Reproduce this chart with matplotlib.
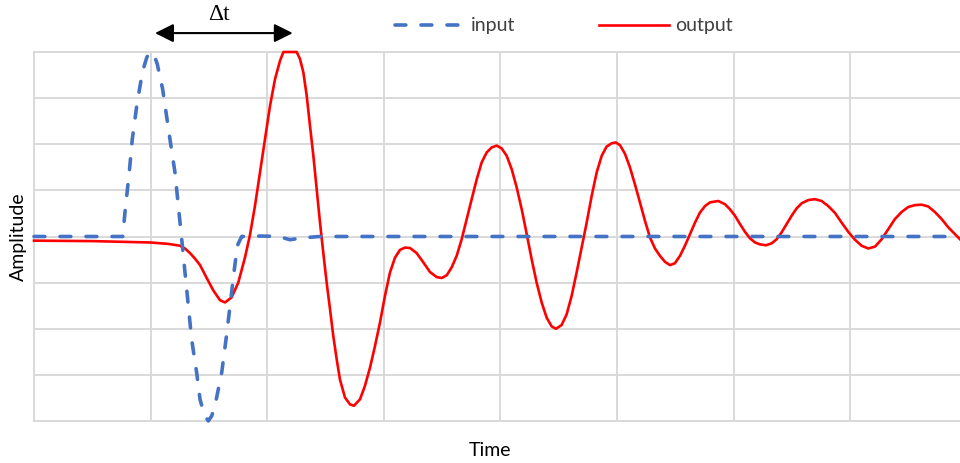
import matplotlib
matplotlib.use("Agg")
import matplotlib.pyplot as plt
import numpy as np

# time axis in grid units, amplitude in grid units (8 divisions from -4 to 4)
input_t = [0.0, 0.761, 0.780, 0.817, 0.843, 0.881, 0.929, 0.967, 0.989, 1.008,
           1.032, 1.057, 1.103, 1.166, 1.209, 1.238, 1.267, 1.295, 1.324, 1.352,
           1.395, 1.424, 1.458, 1.495, 1.524, 1.552, 1.610, 1.647, 1.681, 1.715,
           1.744, 1.781, 1.95, 2.10, 2.195, 2.30, 2.45, 7.94]
input_amp = [0.0, 0.0, 0.52, 1.39, 2.11, 2.83, 3.56, 3.88, 3.98, 4.0,
             3.92, 3.74, 3.20, 2.11, 1.39, 0.66, -0.06, -0.78, -1.51, -2.23,
             -2.95, -3.53, -3.85, -4.0, -3.89, -3.67, -2.95, -2.23, -1.51, -0.78,
             -0.20, 0.0, 0.01, 0.0, -0.07, -0.03, 0.0, 0.0]

output_t = [0.0, 0.5, 1.0, 1.15, 1.252, 1.295, 1.338, 1.381, 1.424, 1.481,
            1.538, 1.595, 1.638, 1.695, 1.752, 1.810, 1.852, 1.895, 1.938, 1.981,
            2.024, 2.067, 2.110, 2.139, 2.253, 2.281, 2.310, 2.339, 2.367, 2.396,
            2.424, 2.453, 2.481, 2.510, 2.539, 2.567, 2.596, 2.624, 2.667, 2.710,
            2.744, 2.796, 2.838, 2.882, 2.925, 2.967, 3.010, 3.053, 3.096, 3.139,
            3.182, 3.225, 3.282, 3.339, 3.396, 3.454, 3.497, 3.540, 3.582, 3.625,
            3.668, 3.711, 3.754, 3.797, 3.840, 3.882, 3.925, 3.968, 4.011, 4.054,
            4.097, 4.140, 4.183, 4.226, 4.268, 4.311, 4.354, 4.397, 4.440, 4.477,
            4.525, 4.568, 4.611, 4.654, 4.697, 4.740, 4.783, 4.826, 4.869, 4.911,
            4.954, 4.989, 5.026, 5.069, 5.111, 5.154, 5.197, 5.240, 5.283, 5.326,
            5.369, 5.412, 5.455, 5.497, 5.540, 5.583, 5.626, 5.669, 5.712, 5.755,
            5.798, 5.869, 5.926, 5.969, 6.012, 6.055, 6.098, 6.141, 6.184, 6.226,
            6.278, 6.326, 6.369, 6.412, 6.455, 6.498, 6.541, 6.584, 6.641, 6.698,
            6.755, 6.812, 6.870, 6.927, 6.984, 7.041, 7.098, 7.155, 7.213, 7.270,
            7.327, 7.384, 7.441, 7.498, 7.556, 7.613, 7.670, 7.727, 7.784, 7.841,
            7.899, 7.942]
output_amp = [-0.09, -0.10, -0.13, -0.16, -0.20, -0.26, -0.36, -0.48, -0.62, -0.90,
              -1.17, -1.38, -1.43, -1.32, -1.00, -0.45, 0.03, 0.66, 1.39, 2.11,
              2.83, 3.41, 3.81, 4.0, 4.0, 3.85, 3.56, 3.05, 2.40, 1.75,
              1.03, 0.30, -0.35, -1.00, -1.58, -2.16, -2.66, -3.10, -3.49, -3.64,
              -3.67, -3.53, -3.24, -2.84, -2.37, -1.87, -1.29, -0.78, -0.46, -0.29,
              -0.24, -0.25, -0.36, -0.56, -0.77, -0.88, -0.90, -0.84, -0.67, -0.42,
              -0.06, 0.38, 0.81, 1.24, 1.61, 1.82, 1.93, 1.97, 1.91, 1.75,
              1.46, 1.06, 0.59, 0.05, -0.49, -1.00, -1.43, -1.76, -1.95, -2.00,
              -1.92, -1.69, -1.29, -0.78, -0.24, 0.30, 0.88, 1.39, 1.75, 1.95,
              2.02, 2.04, 1.98, 1.79, 1.50, 1.13, 0.74, 0.34, -0.02, -0.26,
              -0.42, -0.55, -0.62, -0.58, -0.42, -0.20, 0.05, 0.30, 0.52, 0.66,
              0.74, 0.77, 0.70, 0.59, 0.45, 0.27, 0.10, -0.04, -0.13, -0.17,
              -0.19, -0.15, -0.06, 0.09, 0.27, 0.45, 0.61, 0.72, 0.79, 0.81,
              0.77, 0.66, 0.51, 0.30, 0.10, -0.07, -0.20, -0.26, -0.22, -0.06,
              0.16, 0.38, 0.53, 0.64, 0.68, 0.69, 0.65, 0.53, 0.38, 0.20,
              0.05, -0.06]

plt.rcParams['font.family'] = ['Lato', 'DejaVu Sans']

GRID = '#d9d9d9'
BLUE = '#4472c4'
RED = '#ff0000'

fig = plt.figure(figsize=(9.6, 4.63), dpi=100)
ax = fig.add_axes([34/960, 42/463, 926/960, 369/463])

ax.plot(output_t, output_amp, color=RED, lw=1.9, label='output',
        clip_on=False, zorder=3, solid_joinstyle='round')
ax.plot(input_t, input_amp, color=BLUE, lw=2.6, label='input',
        dashes=(3.0, 4.2), dash_capstyle='round', clip_on=False, zorder=4)

ax.set_xlim(0, 7.942)
ax.set_ylim(-4, 4)
ax.set_xticks(np.arange(0, 8))
ax.set_yticks(np.arange(-4, 5))
ax.tick_params(length=0, labelbottom=False, labelleft=False)
ax.grid(True, color=GRID, lw=1.4)
ax.set_axisbelow(True)
for side in ('left', 'bottom', 'top'):
    ax.spines[side].set_color(GRID)
    ax.spines[side].set_linewidth(1.4)
ax.spines['right'].set_visible(False)

# delay between input peak and output peak
ax.annotate('', xy=(1.038, 4.41), xytext=(2.219, 4.41),
            arrowprops=dict(arrowstyle='<|-|>,head_length=0.4,head_width=0.2',
                            color='black', lw=1.5, mutation_scale=28,
                            shrinkA=0, shrinkB=0),
            annotation_clip=False)
ax.text(1.587, 4.82, 'Δt', ha='center', va='center', fontsize=17,
        family='Liberation Serif', clip_on=False)

fig.text(18/960, 1 - 237/463, 'Amplitude', rotation=90, ha='center',
         va='center', fontsize=14, color='black')
fig.text(490/960, 1 - 450/463, 'Time', ha='center', va='center',
         fontsize=14, color='black')

handles, labels = ax.get_legend_handles_labels()
fig.legend(handles[::-1], labels[::-1], loc='center left',
           bbox_to_anchor=(395/960, 1 - 26/463), ncol=2, frameon=False,
           fontsize=14, handlelength=3.6, handletextpad=0.3,
           columnspacing=4.3, borderpad=0, borderaxespad=0,
           labelcolor='#404040')

fig.savefig('out.png', dpi=100)
